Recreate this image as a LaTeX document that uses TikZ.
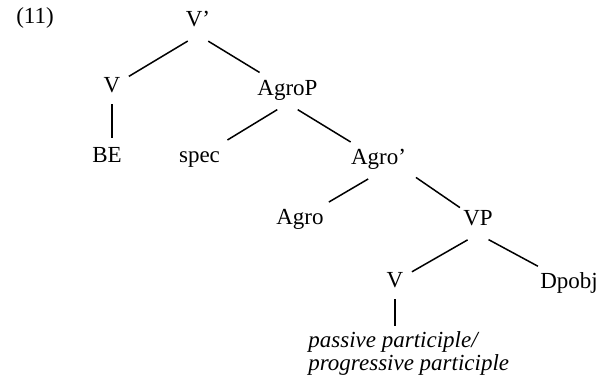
\documentclass[tikz,border=0pt]{standalone}
\usepackage{fontspec}
\setmainfont{Liberation Serif}

\tikzset{
  cat/.style={inner sep=1.5pt, text height=8pt, text depth=2.5pt, font=\fontsize{11.5}{11.5}\selectfont},
  branch/.style={line width=0.75pt, shorten <=6pt, shorten >=3pt},
  stem/.style={line width=0.75pt, shorten <=2pt, shorten >=2.5pt}
}

\begin{document}
\begin{tikzpicture}[x=0.5pt,y=-0.5pt]
    \useasboundingbox (0,0) rectangle (601,377);

    % example number
    \node[cat] (num) at (35,17.5) {(11)};

    % categories, top to bottom
    \node[cat] (vbar)    at (198,21)  {V'};
    \node[cat] (v)       at (112,86.5)  {V};
    \node[cat] (agrop)   at (287.5,89.5) {AgroP};
    \node[cat] (be)      at (107,157) {BE};
    \node[cat] (spec)    at (199.5,157) {spec};
    \node[cat] (agrobar) at (378.5,159) {Agro'};
    \node[cat] (agro)    at (300,219)   {Agro};
    \node[cat] (vp)      at (478,220)   {VP};
    \node[cat] (vlow)    at (395,281.5) {V};
    \node[cat] (dpobj)   at (569,283)   {Dpobj};
    \node[inner sep=0pt, anchor=north west, align=left,
          font=\fontsize{11.5}{11.5}\selectfont\itshape] (part) at (308,331)
          {passive participle/\\progressive participle};

    % branches
    \draw[branch] (vbar.south) -- (v);
    \draw[branch] (vbar.south) -- (agrop);
    \draw[stem] (v.south) -- (v.south |- be.north);
    \draw[branch] (agrop.south) -- (spec);
    \draw[branch] (agrop.south) -- (agrobar);
    \draw[branch] (agrobar.south) -- (agro);
    \draw[branch, shorten <=4pt, shorten >=0pt] (agrobar.south east) -- (vp);
    \draw[branch] (vp.south) -- (vlow);
    \draw[branch] (vp.south) -- (dpobj);
    \draw[stem] (vlow.south) -- (vlow.south |- part.north);
\end{tikzpicture}
\end{document}
